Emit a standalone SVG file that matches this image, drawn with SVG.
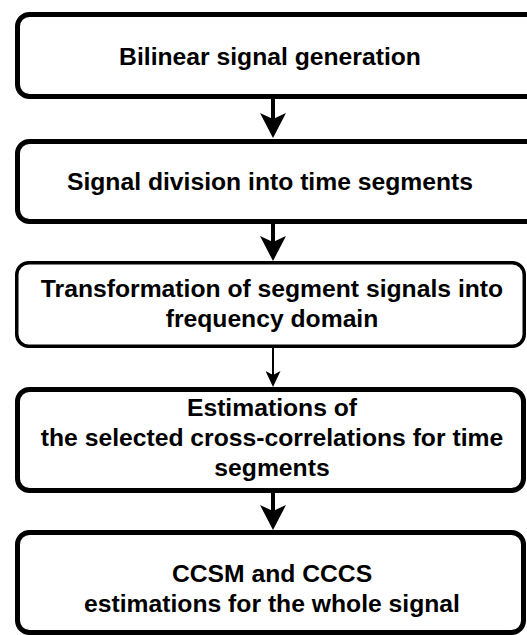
<svg xmlns="http://www.w3.org/2000/svg" width="527" height="635" viewBox="0 0 527 635">
<defs>
<style>
.box{fill:#fff;stroke:#000;stroke-width:5}
.thin{stroke-width:3.5}
.t{font-family:"Liberation Sans",Arial,sans-serif;font-weight:bold;font-size:24.7px;fill:#000;text-anchor:middle}
.c{stroke:#000;fill:none}
</style>
<marker id="big" markerUnits="userSpaceOnUse" viewBox="0 0 25 26" markerWidth="25" markerHeight="26" refX="6" refY="13" orient="auto">
<path d="M0,0 L25,13 L0,26 L6,13 Z" fill="#000"/>
</marker>
<marker id="small" markerUnits="userSpaceOnUse" viewBox="0 0 16 15" markerWidth="16" markerHeight="15" refX="4" refY="7.5" orient="auto">
<path d="M0,0 L16,7.5 L0,15 L4,7.5 Z" fill="#000"/>
</marker>
</defs>
<rect width="527" height="635" fill="#fff"/>
<g id="connectors">
<line class="c" x1="273" y1="99" x2="273" y2="119" stroke-width="4" marker-end="url(#big)"/>
<line class="c" x1="273" y1="224" x2="273" y2="242" stroke-width="4" marker-end="url(#big)"/>
<line class="c" x1="273" y1="348" x2="273" y2="375" stroke-width="2" marker-end="url(#small)"/>
<line class="c" x1="273" y1="493" x2="273" y2="511" stroke-width="4" marker-end="url(#big)"/>
</g>
<g id="n1">
<rect class="box" x="17.5" y="14.5" width="520" height="82" rx="12"/>
<text class="t" x="270" y="65">Bilinear signal generation</text>
</g>
<g id="n2">
<rect class="box" x="17.5" y="141.5" width="520" height="80" rx="12"/>
<text class="t" x="270" y="190">Signal division into time segments</text>
</g>
<g id="n3">
<rect class="box thin" x="16.75" y="262.75" width="507.5" height="83.5" rx="12"/>
<text class="t" x="272" y="297">Transformation of segment signals into</text>
<text class="t" x="272" y="327">frequency domain</text>
</g>
<g id="n4">
<rect class="box" x="17.5" y="389.5" width="506" height="101" rx="12"/>
<text class="t" x="272" y="416">Estimations of</text>
<text class="t" x="272" y="446">the selected cross-correlations for time</text>
<text class="t" x="272" y="476">segments</text>
</g>
<g id="n5">
<rect class="box" x="17.5" y="532.5" width="506" height="100" rx="12"/>
<text class="t" x="272" y="582">CCSM and CCCS</text>
<text class="t" x="272" y="612">estimations for the whole signal</text>
</g>
</svg>
